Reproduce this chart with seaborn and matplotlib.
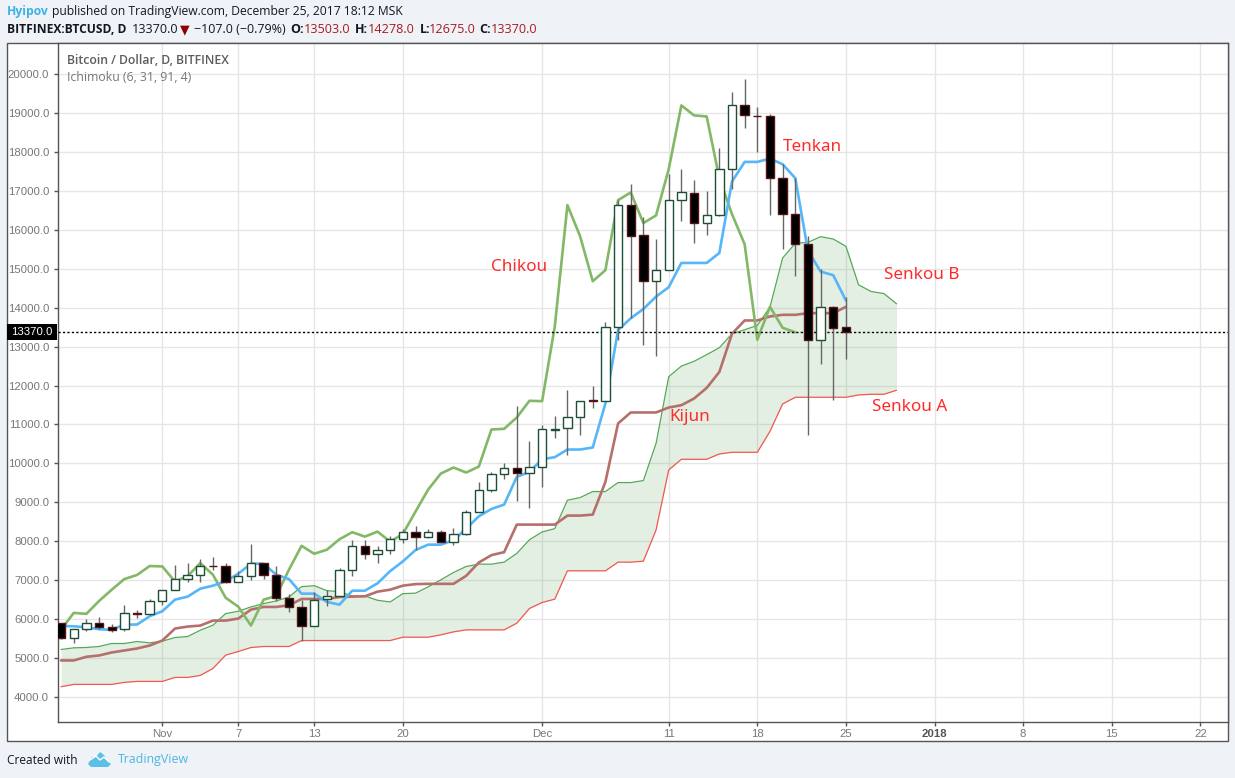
import matplotlib
matplotlib.use("Agg")
import matplotlib.pyplot as plt
from matplotlib.patches import Rectangle, Polygon
import seaborn as sns
import pandas as pd

opens = [5900,5520,5730,5900,5780,5730,6160,6135,
 6470,6750,7030,7135,7365,7360,6960,7110,7435,7130,6540,6310,5830,6500,6600,7265,7870,7680,7780,8050,8230,8116,8236,7987,8184,8760,9326,9738,9893,9764,
 9918,10870,10897,11180,11620,11592,13515,16640,15868,14684,14967,16770,16940,16180,16376,17564,19205,18940,18923,17333,16410,15641,13180,14026,13503]
highs = [5900,5750,5985,6040,5880,6350,6240,6505,
 6750,7375,7445,7545,7605,7445,7220,7915,7435,7350,6650,6480,6690,6735,7315,8040,8040,7880,8145,8315,8400,8322,8279,8348,8794,9515,9790,10021,11472,10570,
 10983,11215,11884,11609,11987,13627,16777,17189,16331,15765,17436,17564,17282,17009,18103,19538,19872,19162,18974,17692,17333,15855,15000,14051,14278]
lows = [5490,5385,5690,5735,5665,5690,6025,6110,
 6350,6750,6950,6950,7265,6920,6960,6990,7025,6460,6180,5435,5830,6330,6600,7095,7530,7435,7665,7950,7764,8082,7987,7901,8159,8760,9266,9600,9034,8854,
 9395,10657,10227,10725,11430,11592,13175,13740,13055,12771,14967,16222,15658,15863,16350,17068,18632,18017,16393,15504,14812,10735,12547,11632,12675]
closes = [5520,5730,5900,5790,5720,6155,6130,6460,
 6750,7025,7130,7360,7350,6960,7100,7435,7135,6545,6315,5830,6495,6590,7265,7880,7675,7780,8050,8230,8116,8245,7987,8184,8760,9326,9738,9893,9764,9918,
 10871,10888,11180,11609,11600,13515,16640,15842,14684,14967,16770,16966,16180,16376,17564,19205,18949,18920,17333,16410,15632,13180,14026,13487,13370]
tenkan = [5820,5810,5786,5735,5718,5855,5855,6068,
 6197,6496,6573,6778,6855,6966,7162,7419,7419,7137,7026,6650,6650,6436,6368,6726,6726,6915,7230,7479,7770,7910,7910,8021,8322,8639,8828,8940,9652,9781,
 10107,10159,10356,10356,10408,11541,13429,13730,13970,14288,14530,15154,15154,15154,15410,17248,17752,17752,17838,17692,17333,15470,14932,14838,14188]
kijun = [4932,4932,5026,5060,5137,5188,5239,5316,
 5444,5752,5803,5829,5957,5957,6009,6239,6308,6308,6350,6513,6513,6513,6564,6573,6581,6701,6752,6855,6895,6902,6902,6902,7108,7451,7640,7717,8425,8425,
 8425,8425,8657,8657,8682,9524,11026,11309,11309,11309,11436,11496,11667,11940,12350,13333,13675,13675,13778,13820,13820,13863,13863,13863,14026]
chikou = [5720,6155,6130,6460,
 6750,7025,7130,7360,7350,6960,7100,7435,7135,6545,6315,5830,6495,6590,7265,7880,7675,7780,8050,8230,8116,8245,7987,8184,8760,9326,9738,9893,9764,9918,
 10871,10888,11180,11609,11600,13515,16640,15842,14684,14967,16770,16966,16180,16376,17564,19205,18949,18920,17333,16410,15632,13180,14026,13487,13370]
senkou_a = [4256,4316,4316,4316,4316,4368,4393,4393,
 4393,4496,4496,4547,4726,5068,5162,5265,5291,5291,5291,5444,5444,5444,5444,5444,5444,5444,5444,5530,5530,5530,5590,5667,5719,5719,5719,5719,5890,6268,
 6422,6508,7237,7237,7237,7237,7460,7460,7485,8286,9830,10105,10105,10105,10242,10285,10285,10285,10825,11528,11700,11700,11700,11700,11700,11760,11777,11777,11880]
senkou_b = [5214,5256,5265,5291,5368,5368,5419,5385,
 5427,5521,5547,5709,5838,6137,6197,6308,6393,6462,6564,6829,6855,6726,6701,6590,6590,6479,6436,6650,6662,6825,7005,7194,7348,7408,7408,7460,7684,8036,
 8236,8322,9052,9120,9275,9275,9506,9506,9558,10511,12227,12502,12624,12795,12974,13333,13436,13547,14017,15282,15658,15684,15829,15769,15581,14590,14419,14367,14103]
last_price = 13370.0
y_ticks = list(range(4000, 20001, 1000))
x_tick_dates = ["2017-11-01","2017-11-07","2017-11-13","2017-11-20","2017-12-01","2017-12-11","2017-12-18","2017-12-25","2018-01-01","2018-01-08","2018-01-15","2018-01-22"]
x_tick_labels = ["Nov","7","13","20","Dec","11","18","25","2018","8","15","22"]

W, H = 1235, 778
BG = "#EFF3F7"
sns.set_style("white")
plt.rcParams["font.family"] = ["Open Sans", "DejaVu Sans"]
fig = plt.figure(figsize=(W/100, H/100), dpi=100, facecolor=BG)

def fx(x): return x/W
def fy(y): return 1-y/H

fig.add_artist(Rectangle((fx(6.5), fy(741)), (1228-6.5)/W, (741-43)/H, transform=fig.transFigure,
                         facecolor="white", edgecolor="#555555", linewidth=1.0, zorder=-1))
ax = fig.add_axes([fx(57.5), fy(721.5), (1228-57.5)/W, (721.5-43)/H], facecolor="white")

dates = pd.date_range("2017-10-24", periods=len(closes))
df_main = pd.DataFrame({"date": dates, "tenkan": tenkan, "kijun": kijun})
df_chikou = pd.DataFrame({"date": dates[:len(chikou)], "chikou": chikou})
df_cloud = pd.DataFrame({"date": pd.date_range("2017-10-24", periods=len(senkou_a)), "a": senkou_a, "b": senkou_b})

ax.fill_between(df_cloud["date"], df_cloud["a"], df_cloud["b"], color="#2E8B2E", alpha=0.13, linewidth=0, zorder=2)
sns.lineplot(data=df_cloud, x="date", y="a", ax=ax, color="#F2584F", lw=0.9, zorder=3)
sns.lineplot(data=df_cloud, x="date", y="b", ax=ax, color="#55A855", lw=0.9, zorder=3)
sns.lineplot(data=df_main, x="date", y="kijun", ax=ax, color="#B5706B", lw=1.9, zorder=3)
sns.lineplot(data=df_chikou, x="date", y="chikou", ax=ax, color="#82B866", lw=1.9, zorder=3)
sns.lineplot(data=df_main, x="date", y="tenkan", ax=ax, color="#55B6FA", lw=1.9, zorder=3)
ax.axhline(last_price, color="black", lw=1.0, dashes=(1.6, 1.6), zorder=3.5)

ups = [c >= o for o, c in zip(opens, closes)]
ax.vlines(dates, lows, highs, color="#666666", lw=1.0, zorder=4)
bottoms = [min(o, c) for o, c in zip(opens, closes)]
heights = [abs(c - o) for o, c in zip(opens, closes)]
ax.bar(dates, heights, bottom=bottoms, width=0.66,
       color=["white" if u else "black" for u in ups],
       edgecolor=["#1D4F37" if u else "#561414" for u in ups], linewidth=1.0, zorder=5)

ax.set_xlim(pd.Timestamp("2017-11-01") - pd.Timedelta(days=8.28), pd.Timestamp("2017-11-01") + pd.Timedelta(days=84.18))
ax.set_ylim(3362, 20810)
ax.set_yticks(y_ticks)
ax.set_yticklabels([f"{v:.1f}" for v in y_ticks], family="Liberation Sans", fontsize=8.2, color="#777777")
ax.set_xticks(pd.to_datetime(x_tick_dates))
ax.set_xticklabels(x_tick_labels, family="Liberation Sans", fontsize=8.2, color="#777777")
ax.get_xticklabels()[8].set_fontweight("bold")
ax.get_xticklabels()[8].set_color("#555555")
ax.set_xlabel(""); ax.set_ylabel("")
ax.grid(True, color="#E6E6E6", lw=1.0, zorder=0)
ax.set_axisbelow(True)
ax.tick_params(axis="y", length=3, width=1.0, color="#555555", pad=3, left=True)
ax.tick_params(axis="x", length=3, width=1.0, color="#555555", pad=2.5, bottom=True)
for s in ax.spines.values():
    s.set_visible(True); s.set_color("#555555"); s.set_linewidth(1.0)

fig.add_artist(Rectangle((fx(7), fy(339.5)), 50/W, 16/H, transform=fig.transFigure, facecolor="black", edgecolor="none", zorder=10))
fig.text(fx(11), fy(332), "13370.0", color="white", fontsize=8.2, family="Liberation Sans", va="center", zorder=11)

def t(x, y, s, color="#131722", size=9.0, weight="normal", **kw):
    fig.text(fx(x), fy(y), s, color=color, fontsize=size, fontweight=weight, va="center", zorder=12, **kw)

t(7, 11, "Hyipov", color="#3BB2E6", size=8.7, weight="bold")
t(52, 11, "published on TradingView.com, December 25, 2017 18:12 MSK", size=8.73)
t(7, 29.5, "BITFINEX:BTCUSD, D", weight="bold", size=8.65)
t(132, 29.5, "13370.0", size=9.1)
t(180, 30, "▼", color="#8B0000", size=9.0, family="DejaVu Sans")
t(194, 29.5, "−107.0 (−0.79%)", size=9.0)
for x, lab, xv, val in [(290, "O:", 304, "13503.0"), (355, "H:", 368, "14278.0"), (420, "L:", 429, "12675.0"), (479, "C:", 491, "13370.0")]:
    t(x, 29.5, lab, weight="bold", size=9.0)
    t(xv, 29.5, val, color="#A61C1C", size=9.1)

t(67, 60.5, "Bitcoin / Dollar, D, BITFINEX", color="#5D5D5D", weight=600, size=8.85)
t(67, 77.5, "Ichimoku (6, 31, 91, 4)", color="#777777", size=8.85)

RED = "#FF2A2A"
for x, y, s in [(491, 267, "Chikou"), (783, 147, "Tenkan"), (884, 275, "Senkou B"), (872, 407, "Senkou A"), (669, 417, "Kijun")]:
    t(x, y, s, color=RED, size=12.3, family="Noto Sans")

t(7, 760, "Created with", size=8.6)
t(118, 760, "TradingView", color="#4DB6E2", size=8.95)
logo = Polygon([(fx(x), fy(y)) for x, y in [(88,764),(92,757),(96,757),(100,752),(104,755),(107,760),(111,764),(108,767),(91,767)]],
               closed=True, transform=fig.transFigure, facecolor="#5CC0E6", edgecolor="none", zorder=12)
fig.add_artist(logo)
fig.add_artist(plt.Line2D([fx(90), fx(96), fx(100), fx(104), fx(109)], [fy(760), fy(756), fy(760), fy(757), fy(762)],
                          color="white", lw=1.0, transform=fig.transFigure, zorder=13))

fig.savefig("out.png", dpi=100, facecolor=BG)
